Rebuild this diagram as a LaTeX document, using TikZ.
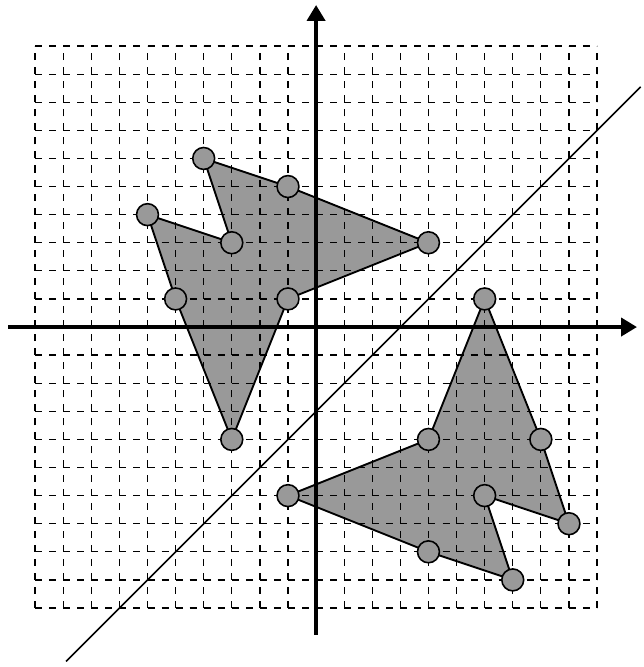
\documentclass[tikz,border=0pt]{standalone}
\usepackage{xcolor}
\usepackage{tikz}
\usetikzlibrary{arrows.meta}

\begin{document}
\begin{tikzpicture}[
    gridline/.style={line width=1.3pt, dash pattern=on 0.25cm off 0.25cm},
    axis/.style={line width=3.5pt, -{Triangle[length=0.56cm,width=0.64cm]}},
    region/.style={fill=black!40},
    rim/.style={line width=1.9pt, line join=round},
    mirror/.style={line width=1.6pt},
    dot/.style={circle, draw, line width=1.6pt, fill=black!40, minimum size=0.78cm, inner sep=0pt}
  ]
    \useasboundingbox (-11.25,-12.1) rectangle (11.67,11.64);

    % corners of the figure and of its mirror image in y = x - 3
    \foreach \n/\x/\y in {1/-4/6, 2/-1/5, 3/4/3, 4/-1/1, 5/-3/-4, 6/-5/1, 7/-6/4, 8/-3/3} {
      \coordinate (a\n) at (\x,\y);
      \coordinate (b\n) at ({\y+3},{\x-3});
    }

    % filled figures
    \fill[region] (a1) -- (a2) -- (a3) -- (a4) -- (a5) -- (a6) -- (a7) -- (a8) -- cycle;
    \fill[region] (b1) -- (b2) -- (b3) -- (b4) -- (b5) -- (b6) -- (b7) -- (b8) -- cycle;

    % grid
    \draw[gridline] (-10,-10) grid (10,10);

    % outlines
    \draw[rim] (a1) -- (a2) -- (a3) -- (a4) -- (a5) -- (a6) -- (a7) -- (a8) -- cycle;
    \draw[rim] (b1) -- (b2) -- (b3) -- (b4) -- (b5) -- (b6) -- (b7) -- (b8) -- cycle;

    % axes and mirror line
    \coordinate (xl) at (-10.96,0);
    \coordinate (xr) at (11.42,0);
    \coordinate (yb) at (0,-10.96);
    \coordinate (yt) at (0,11.46);
    \draw[axis] (xl) -- (xr);
    \draw[axis] (yb) -- (yt);
    \coordinate (m1) at (-8.9,-11.9);
    \coordinate (m2) at (11.55,8.55);
    \draw[mirror] (m1) -- (m2);

    % corner points
    \foreach \n in {1,...,8} {
      \node[dot] (da\n) at (a\n) {};
      \node[dot] (db\n) at (b\n) {};
    }
\end{tikzpicture}
\end{document}
